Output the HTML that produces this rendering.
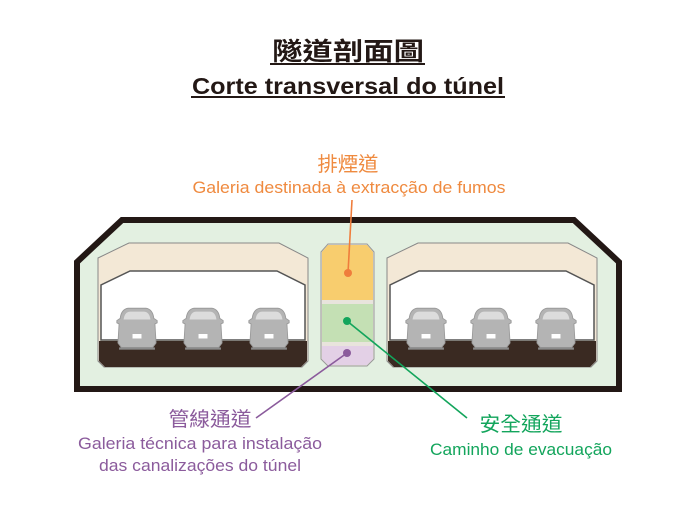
<!DOCTYPE html>
<html><head><meta charset="utf-8"><style>body{margin:0;background:#fff}svg{display:block}</style></head><body>
<svg width="696" height="525" viewBox="0 0 696 525" xmlns="http://www.w3.org/2000/svg" font-family="'Liberation Sans','Noto Sans CJK TC',sans-serif">
<defs>
<g id="car">
<path d="M-15,-14 Q-14,-22 -8,-23 L8,-23 Q14,-22 15,-14 L18,-12 L18,-10 L16,-9 L17,8 L14,12 L-14,12 L-17,8 L-16,-9 L-18,-10 L-18,-12 Z" fill="#b4b4b4" stroke="#9a9a9a" stroke-width="0.8"/>
<path d="M-12,-13 Q-11,-20 -6,-20 L6,-20 Q11,-20 12,-13 Z" fill="#dcdcdc"/>
<rect x="-4" y="0" width="8" height="4" fill="#fff"/>
<rect x="-16" y="12" width="32" height="2" fill="#8a8a8a"/>
</g>
</defs>
<text x="348" y="60" font-size="25" font-weight="bold" text-anchor="middle" fill="#231815" textLength="152" lengthAdjust="spacingAndGlyphs">隧道剖面圖</text>
<rect x="270" y="63" width="155" height="2" fill="#231815"/>
<text x="348" y="94" font-size="23" font-weight="bold" text-anchor="middle" fill="#231815" textLength="312" lengthAdjust="spacingAndGlyphs">Corte transversal do túnel</text>
<rect x="191" y="96" width="314" height="2" fill="#231815"/>
<text x="348" y="171" font-size="20" text-anchor="middle" fill="#ef8a3f" textLength="61" lengthAdjust="spacingAndGlyphs">排煙道</text>
<text x="349" y="193" font-size="17" text-anchor="middle" fill="#ef8a3f" textLength="313" lengthAdjust="spacingAndGlyphs">Galeria destinada à extracção de fumos</text>
<path d="M122,220 L574,220 L619,262 L619,389 L77,389 L77,262 Z" fill="#e3f0e1" stroke="#231815" stroke-width="6"/>
<g>
<path d="M129,243 L279,243 L308,258 L308,361 L302,367 L104,367 L98,361 L98,258 Z" fill="#f3e8d6" stroke="#888" stroke-width="1"/>
<path d="M130,271 L277,271 L305,285 L305,340 L101,340 L101,285 Z" fill="#fff" stroke="#555" stroke-width="1.5"/>
<path d="M99,341 L307,341 L307,361 L301,367 L105,367 L99,361 Z" fill="#3a2a22"/>
</g>
<g transform="translate(289,0)">
<path d="M129,243 L279,243 L308,258 L308,361 L302,367 L104,367 L98,361 L98,258 Z" fill="#f3e8d6" stroke="#888" stroke-width="1"/>
<path d="M130,271 L277,271 L305,285 L305,340 L101,340 L101,285 Z" fill="#fff" stroke="#555" stroke-width="1.5"/>
<path d="M99,341 L307,341 L307,361 L301,367 L105,367 L99,361 Z" fill="#3a2a22"/>
</g>
<use href="#car" transform="translate(137,334) scale(1.12)"/>
<use href="#car" transform="translate(203,334) scale(1.12)"/>
<use href="#car" transform="translate(269,334) scale(1.12)"/>
<use href="#car" transform="translate(426,334) scale(1.12)"/>
<use href="#car" transform="translate(491,334) scale(1.12)"/>
<use href="#car" transform="translate(556,334) scale(1.12)"/>
<path d="M328,244 L367,244 L374,252 L374,359 L367,366 L328,366 L321,359 L321,252 Z" fill="#e8e4dc" stroke="#999" stroke-width="1"/>
<path d="M328,245 L367,245 L373,252 L373,300 L322,300 L322,252 Z" fill="#f8cd6e"/>
<rect x="322" y="304" width="51" height="38" fill="#c4e0b4"/>
<path d="M322,346 L373,346 L373,359 L367,365 L328,365 L322,359 Z" fill="#e3d0e6"/>
<line x1="348" y1="273" x2="352" y2="200" stroke="#ef7d3c" stroke-width="1.6"/>
<circle cx="348" cy="273" r="4" fill="#ef7d3c"/>
<line x1="347" y1="321" x2="467" y2="418" stroke="#13a55c" stroke-width="1.6"/>
<circle cx="347" cy="321" r="4" fill="#13a55c"/>
<line x1="347" y1="353" x2="256" y2="418" stroke="#8b5b9c" stroke-width="1.6"/>
<circle cx="347" cy="353" r="4" fill="#8b5b9c"/>
<text x="210" y="426" font-size="20" text-anchor="middle" fill="#8b5b9c" textLength="83" lengthAdjust="spacingAndGlyphs">管線通道</text>
<text x="200" y="449" font-size="17" text-anchor="middle" fill="#8b5b9c" textLength="244" lengthAdjust="spacingAndGlyphs">Galeria técnica para instalação</text>
<text x="200" y="471" font-size="17" text-anchor="middle" fill="#8b5b9c" textLength="202" lengthAdjust="spacingAndGlyphs">das canalizações do túnel</text>
<text x="521" y="431" font-size="20" text-anchor="middle" fill="#13a55c" textLength="83" lengthAdjust="spacingAndGlyphs">安全通道</text>
<text x="521" y="455" font-size="17" text-anchor="middle" fill="#13a55c" textLength="182" lengthAdjust="spacingAndGlyphs">Caminho de evacuação</text>
</svg>
</body></html>
